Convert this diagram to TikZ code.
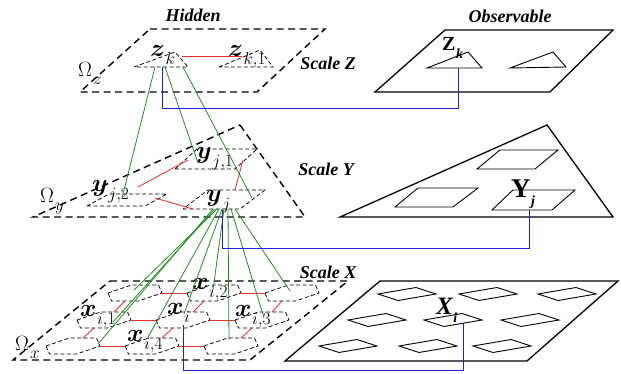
\documentclass[tikz,border=0pt]{standalone}
\usepackage{fontspec}
\setmainfont{Liberation Serif}
\usepackage{bm}
\usetikzlibrary{calc}

\definecolor{linkred}{RGB}{232,45,45}
\definecolor{linkgreen}{RGB}{35,140,35}
\definecolor{linkblue}{RGB}{30,30,225}

% hidden label: bold variable with a dropped subscript
\newcommand{\hlbl}[2]{$\bm{#1}$\kern0.5pt\raisebox{-8pt}{\fontsize{16}{18}\selectfont$#2$}}
% domain label: Omega with a dropped subscript
\newcommand{\domlbl}[1]{$\Omega$\kern1pt\raisebox{-8pt}{\fontsize{16}{18}\selectfont$#1$}}
% observable label: bold capital with a dropped bold italic subscript
\newcommand{\olbl}[2]{\textbf{#1}\kern0.5pt\raisebox{-8pt}{\fontsize{14}{16}\selectfont\textbf{\textit{#2}}}}

\tikzset{
  plane/.style={draw, line width=1.4pt, dash pattern=on 7pt off 4.5pt},
  oplane/.style={draw, line width=1.3pt, line join=miter},
  cell/.style={draw, line width=0.75pt, dash pattern=on 4pt off 2.5pt},
  ocell/.style={draw, line width=0.9pt},
  redlink/.style={draw=linkred, line width=0.8pt},
  greenlink/.style={draw=linkgreen, line width=0.8pt},
  bluelink/.style={draw=linkblue, line width=0.9pt},
  heading/.style={font=\fontsize{18}{20}\selectfont\bfseries\itshape, inner sep=0pt},
  mlabel/.style={font=\fontsize{25}{28}\selectfont, inner sep=0pt, anchor=base west},
  domlabel/.style={font=\fontsize{22}{26}\selectfont, inner sep=0pt, anchor=base west},
  hexcell/.pic={
    \draw[cell] (-27,0) -- (-3.5,-8) -- (23.5,-8) -- (27,0) -- (3.5,8) -- (-23.5,8) -- cycle;
    \coordinate (-l) at (-27,0);
    \coordinate (-r) at (27,0);
    \coordinate (-t) at (10,-8);
    \coordinate (-b) at (-10,8);
  },
  obscell/.pic={
    \draw[ocell] (-29,0) -- (9,-6.5) -- (29,0) -- (-9,6.5) -- cycle;
  }
}

\begin{document}
\begin{tikzpicture}[x=1pt,y=-1pt]
\useasboundingbox (0,0) rectangle (621,374);

% ---------- headings ----------
\node[heading] (hid) at (193,15) {Hidden};
\node[heading] (obs) at (510,16) {Observable};
\node[heading] (sclz) at (328,63) {Scale Z};
\node[heading] (scly) at (326,169) {Scale Y};
\node[heading] (sclx) at (328,272) {Scale X};

% ---------- scale Z, hidden ----------
\draw[plane] (150,29) -- (325,29) -- (257,92) -- (80,92) -- cycle;
\node[domlabel] (omz) at (78,77) {\domlbl{z}};
\draw[cell] (134,67) -- (175,52) -- (188,67) -- cycle;
\draw[cell] (219,67) -- (260,50) -- (273,67) -- cycle;
\node[mlabel] (zk) at (150,57) {\hlbl{z}{k}};
\node[mlabel] (zk1) at (228,57) {\hlbl{z}{k{,}1}};
\coordinate (zk-e) at (182,56);
\coordinate (zk1-w) at (242,56);
\coordinate (zk-g1) at (155,67);
\coordinate (zk-g2) at (165,67);
\coordinate (zk-g3) at (183,67);
\coordinate (zk-o) at (162,67);

% ---------- scale Z, observable ----------
\draw[oplane] (445,30) -- (613,30) -- (550,92) -- (375,92) -- cycle;
\draw[ocell] (427,68) -- (468,52) -- (482,68) -- cycle;
\draw[ocell] (510,68) -- (553,52) -- (566,67) -- cycle;
\node[mlabel, font=\fontsize{20}{24}\selectfont] (Zk) at (442,51) {\olbl{Z}{k}};
\coordinate (Zk-o) at (458,68);

% ---------- scale Y, hidden ----------
\draw[plane] (240,125) -- (305,217) -- (33,217) -- cycle;
\node[domlabel] (omy) at (40,203) {\domlbl{y}};
\draw[cell] (175,169) -- (235,169) -- (257,149) -- (197,149) -- cycle;
\draw[cell] (87,206) -- (145,206) -- (167,194) -- (109,194) -- cycle;
\draw[cell] (183,209) -- (240,209) -- (265,190) -- (208,190) -- cycle;
\node[mlabel] (yj1) at (196,159) {\hlbl{y}{j{,}1}};
\node[mlabel] (yj2) at (92,192) {\hlbl{y}{j{,}2}};
\node[mlabel] (yj) at (206,202) {\hlbl{y}{j}};
\coordinate (yj1-in) at (198,163);
\coordinate (yj2-in) at (122,198);
\coordinate (yj-in) at (252,198);
\coordinate (yj2-a) at (138,187);
\coordinate (yj1-a) at (188,160);
\coordinate (yj2-b) at (155,198);
\coordinate (yj-b) at (193,209);
\coordinate (yj-c) at (235,190);
\coordinate (yj1-c) at (243,160);
\coordinate (yj-o) at (222,210);
\foreach \k/\xx in {1/213,2/215,3/217,4/219,5/222,6/224,7/228,8/231,9/235}
  \coordinate (yj-s\k) at (\xx,209);

% ---------- scale Y, observable ----------
\draw[oplane] (547,125) -- (613,217) -- (340,217) -- cycle;
\draw[ocell] (477,169) -- (535,169) -- (558,150) -- (500,150) -- cycle;
\draw[ocell] (395,207) -- (453,207) -- (478,188) -- (418,188) -- cycle;
\draw[ocell] (492,210) -- (552,210) -- (575,190) -- (513,190) -- cycle;
\node[mlabel, font=\fontsize{27}{30}\selectfont] (Yj) at (511,198) {\olbl{Y}{j}};
\coordinate (Yj-o) at (529,210);

% ---------- scale X, hidden ----------
\draw[plane] (110,281) -- (348,281) -- (250,360) -- (13,360) -- cycle;
\node[domlabel] (omx) at (15,350) {\domlbl{x}};
\pic (ra) at (135,293) {hexcell};
\pic (rb) at (214,293) {hexcell};
\pic (rc) at (292,293) {hexcell};
\pic (sa) at (104,320) {hexcell};
\pic (sb) at (183,320) {hexcell};
\pic (sc) at (262,320) {hexcell};
\pic (ta) at (73,346) {hexcell};
\pic (tb) at (152,346) {hexcell};
\pic (tc) at (231,346) {hexcell};
\node[mlabel] (xi2) at (192,289) {\hlbl{x}{i{,}2}};
\node[mlabel] (xi1) at (80,316) {\hlbl{x}{i{,}1}};
\node[mlabel] (xi) at (167,314) {\hlbl{x}{i}};
\node[mlabel] (xi3) at (235,316) {\hlbl{x}{i{,}3}};
\node[mlabel] (xi4) at (127,341) {\hlbl{x}{i{,}4}};
% green end points inside the cells
\coordinate (ra-g) at (134,290);
\coordinate (rb-g) at (213,290);
\coordinate (rc-g) at (290,291);
\coordinate (sa-g) at (113,322);
\coordinate (sb-g) at (184,314);
\coordinate (sc-g) at (264,318);
\coordinate (ta-g) at (98,344);
\coordinate (tb-g) at (147,339);
\coordinate (tc-g) at (229,340);
\coordinate (sb-o) at (183,325);

% ---------- scale X, observable ----------
\draw[oplane] (380,281) -- (618,281) -- (527,361) -- (285,361) -- cycle;
\foreach \cx/\cy in {407/294,488/294,567/294,377/320,453/320,530/320,348/346,428/346,502/346}
  \pic at (\cx,\cy) {obscell};
\node[mlabel, font=\fontsize{25}{28}\selectfont\itshape] (Xi) at (436,314) {\olbl{X}{i}};
\coordinate (Xi-o) at (463,323);

% ---------- lateral links (red) ----------
\draw[redlink] (zk-e) -- (zk1-w);
\draw[redlink] (yj2-a) -- (yj1-a);
\draw[redlink] (yj2-b) -- (yj-b);
\draw[redlink] (yj-c) -- (yj1-c);
\draw[redlink] (ra-r) -- (rb-l);
\draw[redlink] (rb-r) -- (rc-l);
\draw[redlink] (sa-r) -- (sb-l);
\draw[redlink] (sb-r) -- (sc-l);
\draw[redlink] (ta-r) -- (tb-l);
\draw[redlink] (tb-r) -- (tc-l);
\draw[redlink] (ta-t) -- (sa-b);
\draw[redlink] (sa-t) -- (ra-b);
\draw[redlink] (tb-t) -- (sb-b);
\draw[redlink] (sb-t) -- (rb-b);
\draw[redlink] (tc-t) -- (sc-b);
\draw[redlink] (sc-t) -- (rc-b);

% ---------- parent-child links (green) ----------
\draw[greenlink] (zk-g1) -- (yj2-in);
\draw[greenlink] (zk-g2) -- (yj1-in);
\draw[greenlink] (zk-g3) -- (yj-in);
\draw[greenlink] (yj-s1) -- (ta-g);
\draw[greenlink] (yj-s2) -- (sa-g);
\draw[greenlink] (yj-s3) -- (ra-g);
\draw[greenlink] (yj-s4) -- (tb-g);
\draw[greenlink] (yj-s5) -- (sb-g);
\draw[greenlink] (yj-s6) -- (rb-g);
\draw[greenlink] (yj-s7) -- (tc-g);
\draw[greenlink] (yj-s8) -- (sc-g);
\draw[greenlink] (yj-s9) -- (rc-g);

% ---------- hidden to observable links (blue) ----------
\draw[bluelink] (zk-o) -- ++(0,41) -| (Zk-o);
\draw[bluelink] (yj-o) -- ++(0,38) -| (Yj-o);
\draw[bluelink] (sb-o) -- ++(0,45) -| (Xi-o);
\end{tikzpicture}
\end{document}
